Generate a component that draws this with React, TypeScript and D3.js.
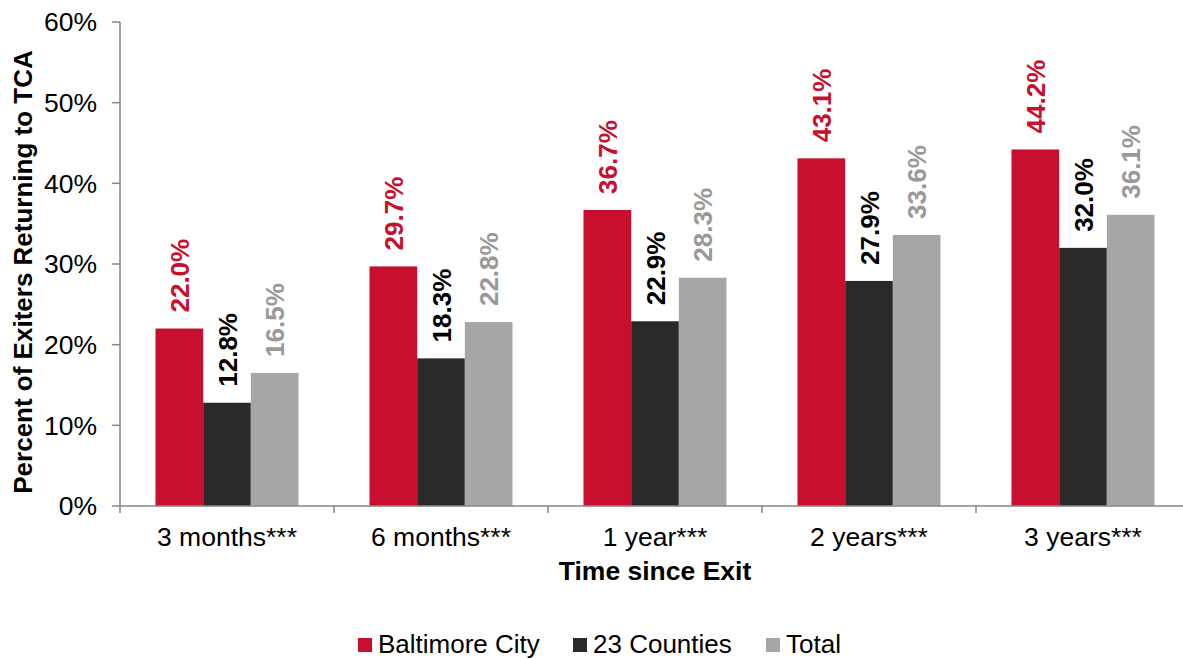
import React from "react";
import * as d3 from "d3";

const categories = ["3 months***", "6 months***", "1 year***", "2 years***", "3 years***"];
const seriesNames = ["Baltimore City", "23 Counties", "Total"];
const baltimore = [22.0, 29.7, 36.7, 43.1, 44.2];
const counties = [12.8, 18.3, 22.9, 27.9, 32.0];
const total = [16.5, 22.8, 28.3, 33.6, 36.1];
const yTicks = [0, 10, 20, 30, 40, 50, 60];

const colors = ["#C8102E", "#2A2A2A", "#A6A6A6"];
const labelColors = ["#C8102E", "#000000", "#999999"];
const FONT = "'Liberation Sans', Arial, sans-serif";

export default function App() {
  const W = 1183, H = 659;
  const left = 120, bottom = 506, top = 22;
  const series = [baltimore, counties, total];

  const x0 = d3.scaleBand<string>().domain(categories).range([left, left + 5 * 214]).paddingInner(0).paddingOuter(0);
  const groupPad = 35.5;
  const x1 = d3.scaleBand<string>().domain(seriesNames).range([groupPad, x0.bandwidth() - groupPad]).padding(0);
  const y = d3.scaleLinear().domain([0, 60]).range([bottom, top]);
  const axisColor = "#868686";

  const legendX = [358, 573, 766];

  return (
    <svg width={W} height={H} style={{ display: "block", position: "absolute", left: 0, top: 0 }} fontFamily={FONT}>
      {/* bars */}
      {categories.map((c, i) => (
        <g key={c}>
          {series.map((s, j) => {
            const bx = (x0(c) as number) + (x1(seriesNames[j]) as number);
            const bw = x1.bandwidth();
            const by = y(s[i]);
            return (
              <g key={j}>
                <rect x={bx} y={by} width={bw} height={bottom - by} fill={colors[j]} />
                <text
                  transform={`translate(${bx + bw / 2 + 9.5},${by - 16}) rotate(-90)`}
                  fontSize={26}
                  fontWeight="bold"
                  fill={labelColors[j]}
                  textAnchor="start"
                >
                  {s[i].toFixed(1) + "%"}
                </text>
              </g>
            );
          })}
        </g>
      ))}

      {/* y axis */}
      <line x1={left} x2={left} y1={top} y2={bottom} stroke={axisColor} strokeWidth={1.5} />
      {yTicks.map((t) => (
        <g key={t}>
          <line x1={left - 8} x2={left} y1={y(t)} y2={y(t)} stroke={axisColor} strokeWidth={1.5} />
          <text x={97} y={y(t)} dy="0.35em" textAnchor="end" fontSize={26.5} fill="#000">
            {t + "%"}
          </text>
        </g>
      ))}

      {/* x axis */}
      <line x1={left} x2={W} y1={bottom} y2={bottom} stroke={axisColor} strokeWidth={1.5} />
      {categories.map((c, i) => (
        <g key={c}>
          <line x1={x0(c) as number} x2={x0(c) as number} y1={bottom} y2={bottom + 7} stroke={axisColor} strokeWidth={1.5} />
          <text x={(x0(c) as number) + x0.bandwidth() / 2} y={546} textAnchor="middle" fontSize={26.5} fill="#000">
            {c}
          </text>
        </g>
      ))}

      {/* axis titles */}
      <text x={655} y={580} textAnchor="middle" fontSize={26.5} fontWeight="bold" fill="#000">
        Time since Exit
      </text>
      <text transform={`translate(32,${(top + bottom) / 2 + 8}) rotate(-90)`} textAnchor="middle" fontSize={26} fontWeight="bold" fill="#000">
        Percent of Exiters Returning to TCA
      </text>

      {/* legend */}
      {seriesNames.map((n, j) => (
        <g key={n}>
          <rect x={legendX[j]} y={638} width={14} height={14} fill={colors[j]} />
          <text x={legendX[j] + 20} y={653} fontSize={26} fill="#000">
            {n}
          </text>
        </g>
      ))}
    </svg>
  );
}
